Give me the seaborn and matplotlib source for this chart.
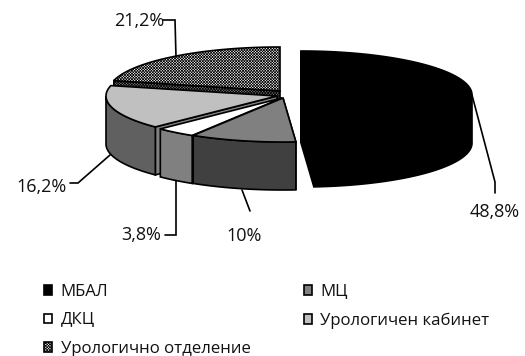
import numpy as np
import matplotlib
matplotlib.use("Agg")
import matplotlib.pyplot as plt
from matplotlib.patches import Patch
import seaborn as sns

categories = ["МБАЛ", "МЦ", "ДКЦ", "Урологичен кабинет", "Урологично отделение"]
shares = [48.8, 10, 3.8, 16.2, 21.2]
value_labels = ["48,8%", "10%", "3,8%", "16,2%", "21,2%"]

sns.set_theme(style="white")
plt.rcParams["font.family"] = ["Open Sans", "DejaVu Sans"]
plt.rcParams["hatch.linewidth"] = 0.5

# Projected pie: ellipse radii, extrusion depth and per-slice explosion centres
RX, RY, DEPTH = 171, 44, 48
centres = [(301, 95), (283, 98), (282, 98), (277, 96), (280, 91)]
top_colors = ["#000000", "#808080", "#ffffff", "#c0c0c0", "#ffffff"]
wall_colors = ["#000000", "#404040", "#808080", "#606060", "#808080"]
face_colors = ["#000000", "#404040", "#ffffff", "#808080", "#808080"]
hatches = [None, None, None, None, "xxxxxxxxxxxx"]

edges = np.concatenate([[0], np.cumsum(shares)]) * 3.6


def project(c, deg, drop=0.0):
    t = np.radians(deg)
    return c[0] + RX * np.sin(t), c[1] - RY * np.cos(t) + drop


fig = plt.figure(figsize=(5.25, 3.56), dpi=100)
ax = fig.add_axes([0, 0, 1, 1])
ax.set_xlim(0, 525)
ax.set_ylim(356, 0)
ax.axis("off")

LW = 1.2


def poly(xs, ys, fc, z, hatch=None):
    ax.fill(xs, ys, facecolor=fc, edgecolor="black", linewidth=LW, hatch=hatch,
            joinstyle="miter", zorder=z)


# Slices are painted from the back of the pie to the front
for z, i in enumerate([4, 3, 2, 1, 0]):
    c, a0, a1 = centres[i], edges[i], edges[i + 1]
    hatch = hatches[i]
    # cut faces: the large front slice shows both, the others only their leading one
    for ang in ([a0, a1] if i == 0 else [a0]):
        px, py = project(c, ang)
        poly([c[0], px, px, c[0]], [c[1], py, py + DEPTH, c[1] + DEPTH],
             face_colors[i], z * 10 + 1, hatch)
    # outer rim, front half of the ellipse only
    lo, hi = max(a0, 90), min(a1, 270)
    if hi > lo:
        th = np.linspace(lo, hi, 60)
        xs, ys = project(c, th)
        poly(np.r_[xs, xs[::-1]], np.r_[ys, ys[::-1] + DEPTH],
             wall_colors[i], z * 10 + 2, hatch)
    # top surface
    th = np.linspace(a0, a1, 120)
    xs, ys = project(c, th)
    poly(np.r_[c[0], xs], np.r_[c[1], ys], top_colors[i], z * 10 + 3, hatch)

# Leader lines and value labels
leaders = [
    ([472, 495, 495], [95, 182, 193]),
    ([242, 250, 250], [190, 211, 211]),
    ([176, 176, 165], [181, 235, 235]),
    ([110, 78, 70], [155, 183, 183]),
    ([176, 175, 163], [57, 20, 20]),
]
text_pos = [(495, 212), (244, 236), (141, 235), (42, 187), (139, 21)]
for (lx, ly), (tx, ty), lab in zip(leaders, text_pos, value_labels):
    ax.plot(lx, ly, color="black", lw=1.2, zorder=100, solid_joinstyle="miter")
    ax.text(tx, ty, lab, ha="center", va="center", fontsize=13, color="#111111")

# Legend reads row by row; matplotlib fills columns, so reorder the handles
order = [0, 2, 4, 1, 3]
handles = [Patch(facecolor=top_colors[i], edgecolor="black", linewidth=1.2,
                 hatch=hatches[i], label=categories[i]) for i in order]
ax.legend(handles=handles, ncol=2, loc="upper left", bbox_to_anchor=(44 / 525, 1 - 284 / 356),
          bbox_transform=ax.transAxes, frameon=False, fontsize=12.1, handlelength=0.5,
          handleheight=0.5, handletextpad=0.5, columnspacing=3.15, labelspacing=0.74,
          borderpad=0, borderaxespad=0, labelcolor="#111111")

fig.savefig("out.png", dpi=100)
